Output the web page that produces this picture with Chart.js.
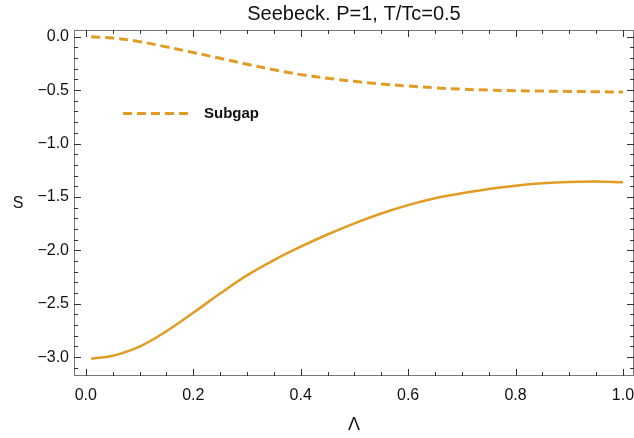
<!DOCTYPE html>
<html>
<head>
<meta charset="utf-8">
<script src="https://cdn.jsdelivr.net/npm/chart.js@4"></script>
<style>
  body { margin: 0; background: #fff; }
</style>
</head>
<body>
<canvas id="seebeckChart" width="634" height="438"></canvas>
<script>
// Lambda values (x axis)
const lambdaValues = [0.01, 0.05, 0.1, 0.15, 0.2, 0.25, 0.3, 0.35, 0.4, 0.45, 0.5,
    0.55, 0.6, 0.65, 0.7, 0.75, 0.8, 0.85, 0.9, 0.95, 1.0];
// S, subgap contribution (dashed)
const subgapValues = [0, -0.013, -0.046, -0.095, -0.148, -0.202, -0.257, -0.309, -0.355, -0.389, -0.418,
    -0.442, -0.461, -0.478, -0.491, -0.5, -0.505, -0.509, -0.512, -0.515, -0.518];
// S, total (solid)
const totalValues = [-3.015, -2.988, -2.902, -2.758, -2.585, -2.405, -2.235, -2.092, -1.966, -1.852, -1.748,
    -1.655, -1.577, -1.513, -1.466, -1.426, -1.395, -1.373, -1.36, -1.356, -1.362];

const xTickValues = [0, 0.2, 0.4, 0.6, 0.8, 1.0];
const yTickValues = [0, -0.5, -1.0, -1.5, -2.0, -2.5, -3.0];
const xMinorStep = 0.05;
const yMinorStep = 0.1;

const lineColor = '#e09c24';
const fontFamily = '"Liberation Sans", Arial, sans-serif';

function toPoints(ys) {
    return lambdaValues.map((x, i) => ({ x: x, y: ys[i] }));
}

function fmt(v) {
    const s = Math.abs(v).toFixed(1);
    return v < 0 ? '\u2212' + s : s;
}

// frame with inward ticks on all four sides (Mathematica style)
const framePlugin = {
    id: 'frame',
    afterDraw(chart) {
        const ctx = chart.ctx;
        const a = chart.chartArea;
        const xs = chart.scales.x;
        const ys = chart.scales.y;
        ctx.save();
        ctx.strokeStyle = '#777';
        ctx.lineWidth = 1;
        ctx.strokeRect(a.left + 0.5, a.top + 0.5, a.right - a.left - 1, a.bottom - a.top - 1);

        ctx.strokeStyle = '#333';
        for (let i = 0; i <= 20; i++) {
            const v = i * xMinorStep;
            const major = i % 4 === 0;
            const len = major ? 7 : 4;
            const px = Math.round(xs.getPixelForValue(v)) + 0.5;
            ctx.beginPath();
            ctx.moveTo(px, a.bottom); ctx.lineTo(px, a.bottom - len);
            ctx.moveTo(px, a.top); ctx.lineTo(px, a.top + len);
            ctx.stroke();
        }
        for (let i = 0; i <= 31; i++) {
            const v = -i * yMinorStep;
            if (v < ys.min) break;
            const major = i % 5 === 0;
            const len = major ? 7 : 4;
            const py = Math.round(ys.getPixelForValue(v)) + 0.5;
            ctx.beginPath();
            ctx.moveTo(a.left, py); ctx.lineTo(a.left + len, py);
            ctx.moveTo(a.right, py); ctx.lineTo(a.right - len, py);
            ctx.stroke();
        }

        // y axis label, upright
        ctx.fillStyle = '#111';
        ctx.font = '16px ' + fontFamily;
        ctx.textAlign = 'center';
        ctx.textBaseline = 'middle';
        ctx.fillText('S', 18, (a.top + a.bottom) / 2 + 0.5);

        // legend for the dashed curve
        const ds = chart.data.datasets[0];
        ctx.strokeStyle = ds.borderColor;
        ctx.lineWidth = ds.borderWidth;
        ctx.setLineDash(ds.borderDash);
        ctx.beginPath();
        ctx.moveTo(a.left + 49, a.top + 83.5);
        ctx.lineTo(a.left + 114, a.top + 83.5);
        ctx.stroke();
        ctx.setLineDash([]);
        ctx.font = 'bold 15px ' + fontFamily;
        ctx.textAlign = 'left';
        ctx.fillText(ds.label, a.left + 130, a.top + 84);
        ctx.restore();
    }
};

new Chart(document.getElementById('seebeckChart').getContext('2d'), {
    type: 'line',
    data: {
        datasets: [{
            label: 'Subgap',
            data: toPoints(subgapValues),
            borderColor: lineColor,
            borderWidth: 3,
            borderDash: [9, 5],
            pointRadius: 0,
            fill: false,
            tension: 0.4
        }, {
            label: 'Total',
            data: toPoints(totalValues),
            borderColor: lineColor,
            borderWidth: 2.5,
            pointRadius: 0,
            fill: false,
            tension: 0.4
        }]
    },
    options: {
        responsive: false,
        animation: false,
        layout: { padding: 0 },
        plugins: {
            legend: { display: false },
            tooltip: { enabled: false },
            title: {
                display: true,
                text: 'Seebeck. P=1, T/Tc=0.5',
                fullSize: false,
                color: '#111',
                font: { family: fontFamily, size: 20, weight: 'normal' },
                padding: { top: 2, bottom: 4 }
            }
        },
        scales: {
            x: {
                type: 'linear',
                min: -0.022,
                max: 1.0205,
                grid: { display: false, drawTicks: false },
                border: { display: false },
                afterBuildTicks: (scale) => { scale.ticks = xTickValues.map(v => ({ value: v })); },
                afterFit: (scale) => {
                    scale.height = 62;
                    scale.paddingLeft = 0;
                    scale.paddingRight = 0;
                },
                ticks: {
                    padding: 10,
                    color: '#111',
                    maxRotation: 0,
                    font: { family: fontFamily, size: 16 },
                    callback: (v) => fmt(v)
                },
                title: {
                    display: true,
                    text: '\u039b',
                    color: '#111',
                    font: { family: fontFamily, size: 18 },
                    padding: { top: 0, bottom: 2 }
                }
            },
            y: {
                type: 'linear',
                min: -3.177,
                max: 0.063,
                grid: { display: false, drawTicks: false },
                border: { display: false },
                afterBuildTicks: (scale) => { scale.ticks = yTickValues.map(v => ({ value: v })); },
                afterFit: (scale) => {
                    scale.width = 74;
                    scale.paddingTop = 0;
                    scale.paddingBottom = 0;
                },
                ticks: {
                    padding: 5,
                    color: '#111',
                    font: { family: fontFamily, size: 16 },
                    callback: (v) => fmt(v)
                }
            }
        }
    },
    plugins: [framePlugin]
});
</script>
</body>
</html>
